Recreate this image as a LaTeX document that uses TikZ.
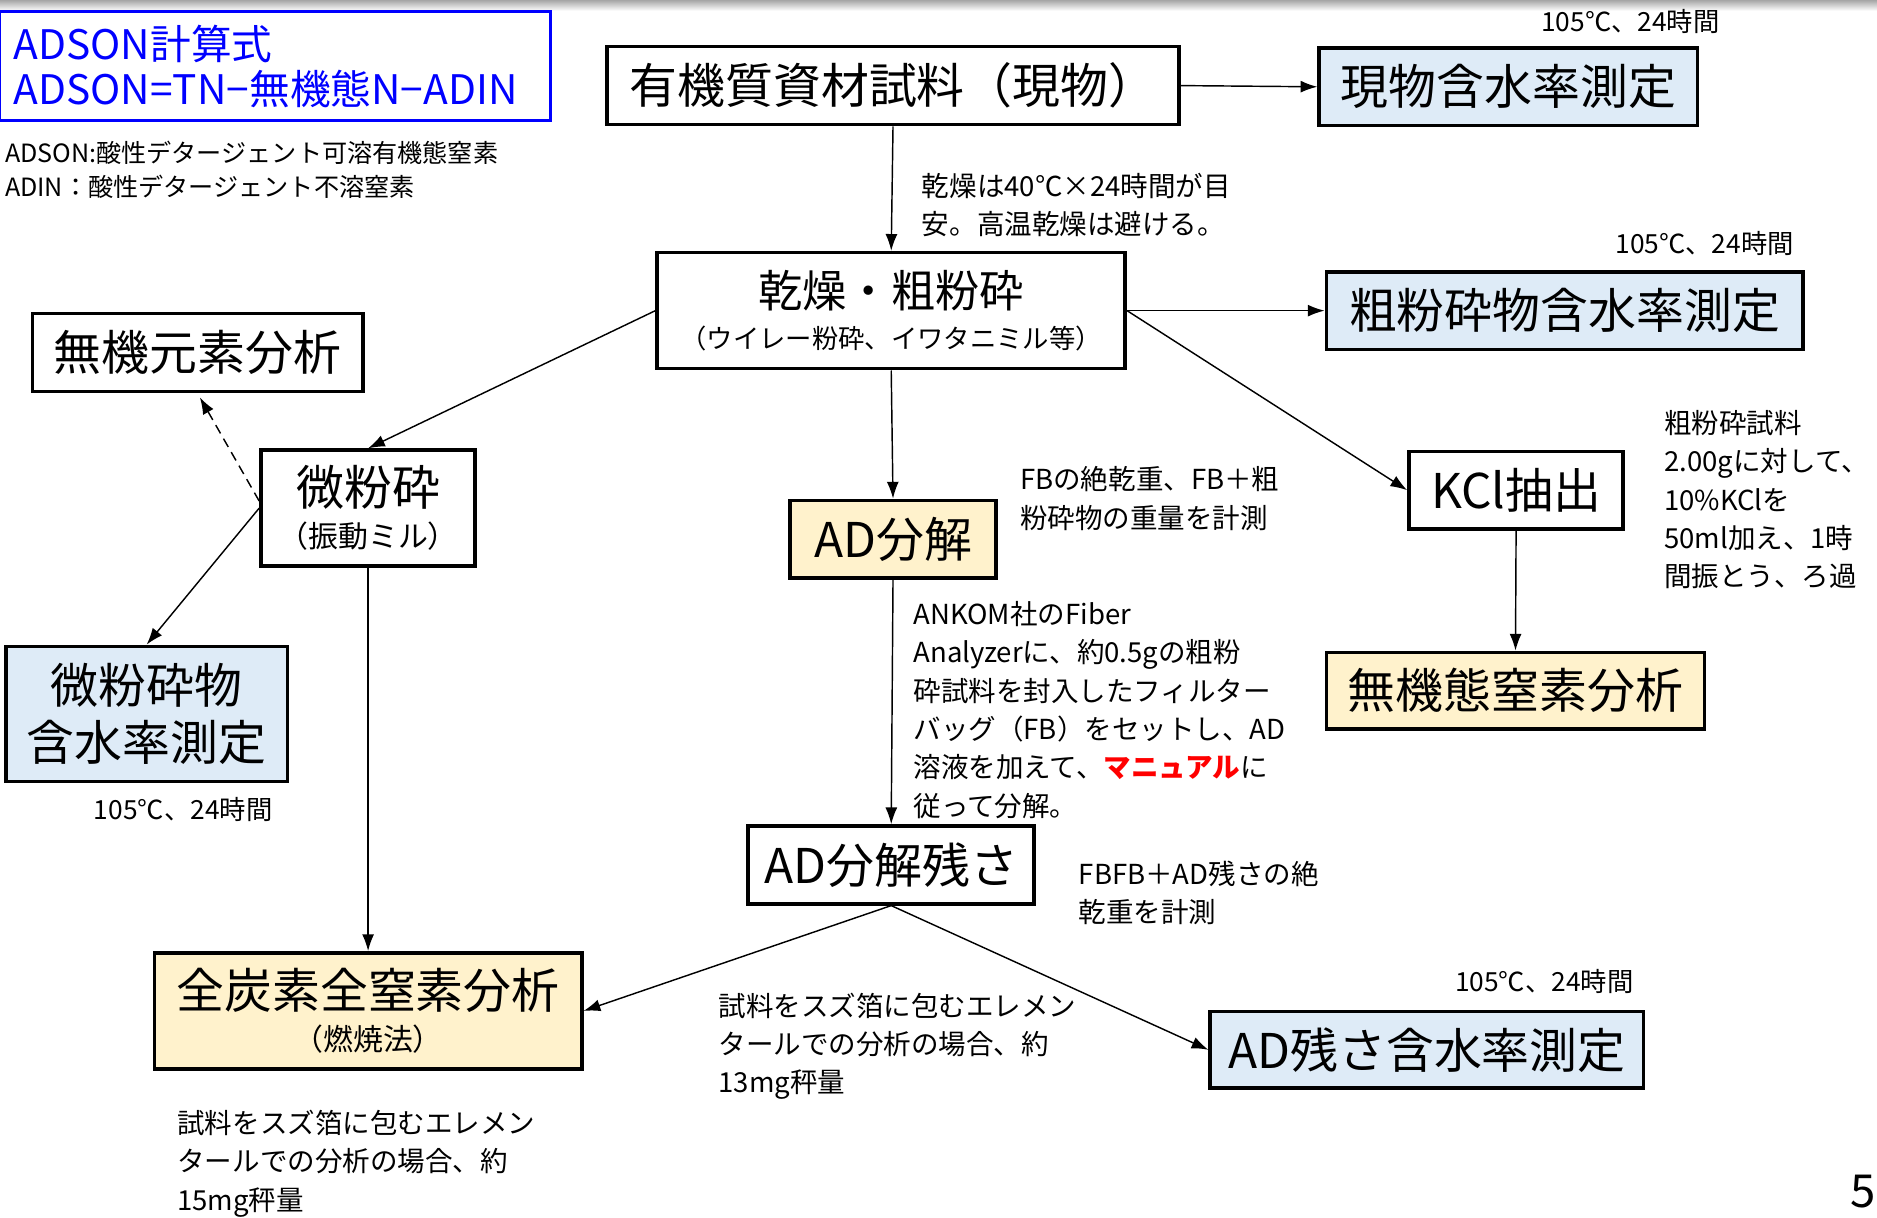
\documentclass[tikz,border=0pt]{standalone}
\usepackage{fontspec}
\setmainfont{Noto Sans CJK JP}
\usetikzlibrary{arrows.meta}
\definecolor{boxblue}{HTML}{DEEBF7}
\definecolor{boxyellow}{HTML}{FFF2CC}
\definecolor{formulablue}{HTML}{0000FF}
\newcommand{\bigtxt}{\fontsize{40pt}{44pt}\selectfont}
\newcommand{\subtxt}{\fontsize{25pt}{28pt}\selectfont}
\newcommand{\notetxt}{\fontsize{23pt}{32pt}\selectfont}
\newcommand{\heattxt}{\fontsize{22pt}{26pt}\selectfont}

\begin{document}
\begin{tikzpicture}[x=1pt,y=-1pt]
% box shapes and colors
\tikzstyle{box}=[draw=black,line width=3pt,font=\bigtxt,inner sep=0pt,align=center]
\tikzstyle{bluebox}=[box,fill=boxblue]
\tikzstyle{yellowbox}=[box,fill=boxyellow]
\tikzstyle{note}=[font=\notetxt,align=left,anchor=west,inner sep=0pt]
\tikzstyle{heat}=[font=\heattxt,inner sep=0pt]
\tikzstyle{link}=[->,>={Latex[length=14pt,width=10pt]},line width=1.2pt]

% frame
\useasboundingbox (0,0) rectangle (1568,1017);
\shade[top color=black!35,bottom color=white] (0,0) rectangle (1568,9);

% formula
\node[draw=formulablue,line width=2.5pt,text=formulablue,font=\fontsize{34pt}{37pt}\selectfont,
  align=left,text width=436pt,inner xsep=12pt,minimum height=91pt] (formula) at (229.5,55.5)
  {ADSON計算式\\ADSON=TN−無機態N−ADIN};
\node[font=\fontsize{21pt}{28pt}\selectfont,align=left,anchor=west,inner sep=0pt] (defs) at (4,142)
  {ADSON:酸性デタージェント可溶有機態窒素\\ADIN：酸性デタージェント不溶窒素};

% boxes
\node[box,minimum width=478pt,minimum height=65pt] (raw) at (746,71.5) {有機質資材試料（現物）};
\node[bluebox,minimum width=316pt,minimum height=65pt] (rawwater) at (1260,72.5) {現物含水率測定};
\node[box,minimum width=391pt,minimum height=97pt] (dry) at (744.5,259.5)
  {{\fontsize{37pt}{44pt}\selectfont 乾燥・粗粉砕}\\[-9pt]{\fontsize{22pt}{26pt}\selectfont （ウイレー粉砕、イワタニミル等）}};
\node[bluebox,minimum width=398pt,minimum height=65pt] (drywater) at (1307,259.5) {粗粉砕物含水率測定};
\node[box,minimum width=276pt,minimum height=65pt] (inorg) at (165,294.5) {無機元素分析};
\node[box,minimum width=179pt,minimum height=97pt] (fine) at (307.5,424.5) {微粉砕\\[-9pt]{\subtxt （振動ミル）}};
\node[bluebox,minimum width=235pt,minimum height=113pt] (finewater) at (122.5,596.5) {微粉砕物\\[4pt]含水率測定};
\node[yellowbox,minimum width=172pt,minimum height=65pt] (ad) at (746,450.5) {AD分解};
\node[box,minimum width=239pt,minimum height=65pt] (res) at (744.5,722.5) {AD分解残さ};
\node[yellowbox,minimum width=357pt,minimum height=97pt] (tcn) at (307.5,844.5) {全炭素全窒素分析\\[-9pt]{\subtxt （燃焼法）}};
\node[bluebox,minimum width=362pt,minimum height=64pt] (reswater) at (1192,877) {AD残さ含水率測定};
\node[box,minimum width=179pt,minimum height=65pt] (kcl) at (1266.5,409.5) {KCl抽出};
\node[yellowbox,minimum width=316pt,minimum height=64pt] (inN) at (1266,577) {無機態窒素分析};

% arrows
\foreach \from/\to in {raw.east/rawwater.west,raw.south/dry.north,dry.east/drywater.west,
  dry.east/kcl.west,dry.west/fine.north,dry.south/ad.north,ad.south/res.north,
  fine.west/finewater.north,fine.south/tcn.north,res.south/tcn.east,res.south/reswater.west,
  kcl.south/inN.north}
\draw[link] (\from) -- (\to);
\draw[link,dash pattern=on 8pt off 5pt,shorten >=4pt] ([yshift=6pt]fine.west) -- (inorg.south);

% drying conditions
\foreach \name/\x/\y in {rawheat/1362/18,dryheat/1424/203,fineheat/153/676,resheat/1290/820}
\node[heat] (\name) at (\x,\y) {105℃、24時間};

% notes
\node[note] (drynote) at (770,171) {乾燥は40℃×24時間が目\\安。高温乾燥は避ける。};
\node[note] (fbnote) at (852,416.5) {FBの絶乾重、FB＋粗\\粉砕物の重量を計測};
\node[note] (ankomnote) at (763,593) {ANKOM社のFiber\\Analyzerに、約0.5gの粗粉\\砕試料を封入したフィルター\\バッグ（FB）をセットし、AD\\溶液を加えて、\textcolor{red}{\bfseries マニュアル}に\\従って分解。};
\node[note] (resnote) at (901,746) {FBFB＋AD残さの絶\\乾重を計測};
\node[note] (tcnnote) at (600,874) {試料をスズ箔に包むエレメン\\タールでの分析の場合、約\\13mg秤量};
\node[note] (elemnote) at (148,972) {試料をスズ箔に包むエレメン\\タールでの分析の場合、約\\15mg秤量};
\node[note] (kclnote) at (1390,417.5) {粗粉砕試料\\2.00gに対して、\\10\%KClを\\50ml加え、1時\\間振とう、ろ過};

% page number
\node[font=\fontsize{38pt}{40pt}\selectfont,anchor=east,inner sep=0pt] (page) at (1567,995) {5};
\end{tikzpicture}
\end{document}
